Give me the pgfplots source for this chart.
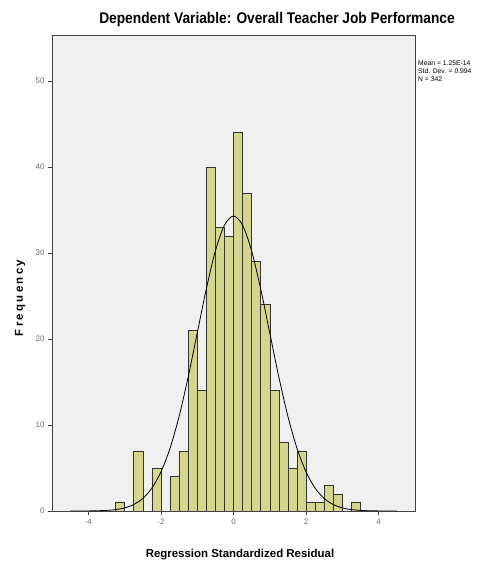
\documentclass[border=0pt]{standalone}
\usepackage{fontspec}
\setmainfont{Liberation Sans}
\usepackage{pgfplots}
\pgfplotsset{compat=1.18}
\definecolor{barfill}{RGB}{212,214,140}
\definecolor{plotbg}{RGB}{240,240,240}
\definecolor{ticktext}{RGB}{110,110,110}

\begin{document}
\begin{tikzpicture}
\useasboundingbox (-52bp,-60bp) rectangle (448bp,511bp);
\begin{axis}[
  at={(0,0)}, anchor=south west,
  scale only axis,
  width=363bp, height=476bp,
  xmin=-5, xmax=5,
  ymin=0, ymax=55.35,
  xtick={-4,-2,0,2,4},
  ytick={0,10,20,30,40,50},
  tick pos=left,
  tick align=outside,
  major tick length=4bp,
  axis background/.style={fill=plotbg},
  axis line style={draw=black!75, line width=0.6bp},
  tick style={draw=black!75, line width=0.6bp},
  tick label style={font=\fontsize{8}{9}\selectfont, text=ticktext},
  /pgf/number format/assume math mode=true,
]
% counts per bin of width 0.25
\addplot[ybar interval, fill=barfill, draw=black!80, line width=0.5bp]
coordinates {(-3.25,1) (-3.0,0) (-2.75,7) (-2.5,0) (-2.25,5) (-2.0,0)
 (-1.75,4) (-1.5,7) (-1.25,21) (-1.0,14) (-0.75,40) (-0.5,33) (-0.25,32)
 (0,44) (0.25,37) (0.5,29) (0.75,24) (1.0,14) (1.25,8) (1.5,5) (1.75,7)
 (2.0,1) (2.25,1) (2.5,3) (2.75,2) (3.0,0) (3.25,1) (3.5,0)};
% normal curve
\addplot[smooth, black, line width=0.8bp]
coordinates {(-4.5,0) (-4.0,0.01) (-3.75,0.03) (-3.5,0.07) (-3.25,0.16)
 (-3.0,0.36) (-2.75,0.75) (-2.5,1.45) (-2.25,2.65) (-2.0,4.53) (-1.75,7.28)
 (-1.5,10.98) (-1.25,15.56) (-1.0,20.68) (-0.75,25.80) (-0.5,30.23)
 (-0.25,33.23) (0,34.30) (0.25,33.23) (0.5,30.23) (0.75,25.80) (1.0,20.68)
 (1.25,15.56) (1.5,10.98) (1.75,7.28) (2.0,4.53) (2.25,2.65) (2.5,1.45)
 (2.75,0.75) (3.0,0.36) (3.25,0.16) (3.5,0.07) (3.75,0.03) (4.0,0.01) (4.5,0)};
\end{axis}
\node at (225bp,491bp) {\scalebox{0.89}[1]{\bfseries\fontsize{15.5}{17}\selectfont
  Dependent Variable: Overall Teacher Job Performance}};
\node[font=\bfseries\fontsize{11.5}{13}\selectfont] at (188bp,-44bp)
  {Regression Standardized Residual};
\node[rotate=90] at (-32bp,213bp)
  {\bfseries\fontsize{11.5}{13}\selectfont\addfontfeatures{LetterSpace=20}Frequency};
\node[font=\fontsize{6.8}{8}\selectfont, anchor=north west, align=left,
  inner sep=0pt] at (366bp,450bp)
  {Mean = 1.25E-14\\Std. Dev. = 0.994\\N = 342};
\end{tikzpicture}
\end{document}
